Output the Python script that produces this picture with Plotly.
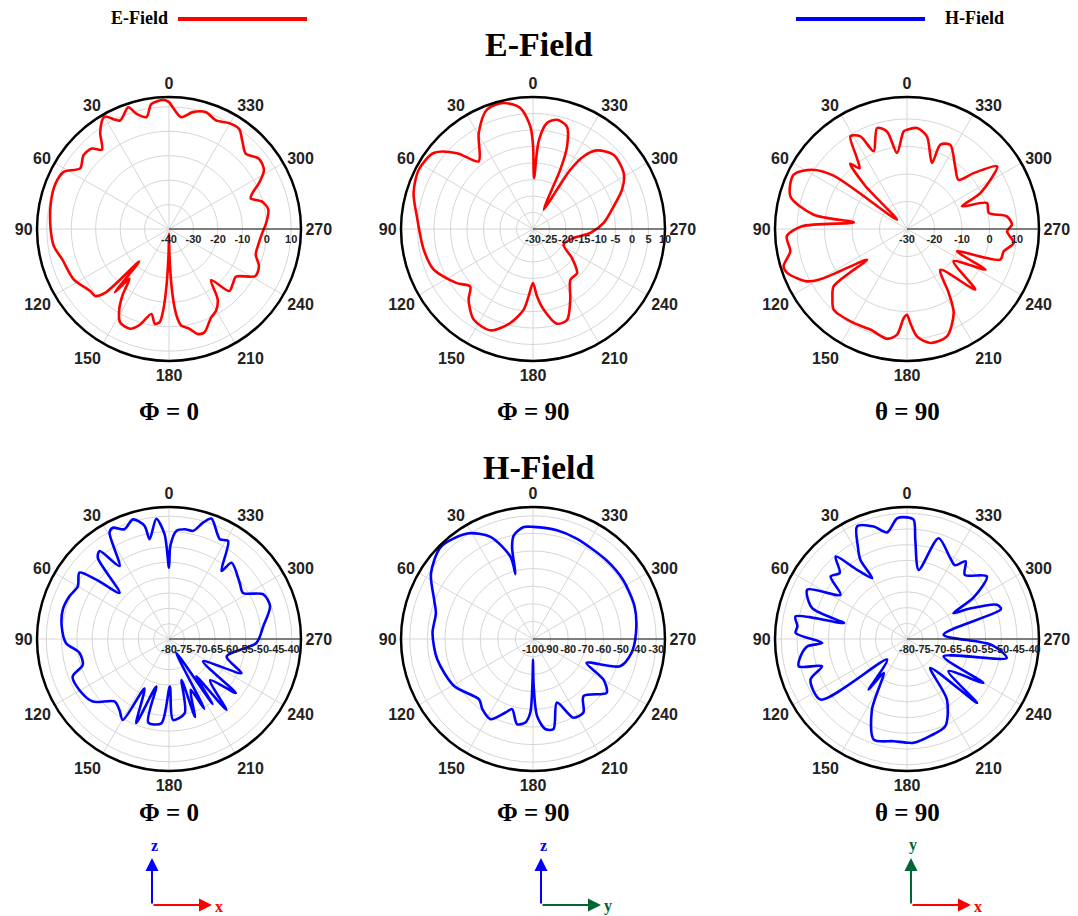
import plotly.graph_objects as go

W, H = 1078, 916

# ---------------- data (angle in degrees, gain in dB) ----------------
e_phi0_theta = [0, 2.6, 8.0, 11.4, 15.7, 18.5, 24.3, 30, 35.4, 40.2, 43.8, 49.2, 55.7, 61.5, 68.1, 77.7,
                90.3, 98.5, 105.9, 117.8, 128.2, 132.2, 135, 137.5, 139.5, 141.5, 144.9, 148.2, 152.3,
                158.7, 163, 168.3, 171.5, 174.3, 176, 177.5, 179, 180, 181, 182.5, 184, 185.5, 187.2,
                191.6, 195.3, 198.9, 205.4, 209.9, 214.7, 219.5, 224.2, 229, 234.5, 241.5, 247.6,
                253.6, 261.2, 267.6, 273.5, 281, 286.4, 290.6, 293.2, 297, 301.8, 308, 314.5, 319.8,
                325, 330.4, 336.6, 342.4, 348.5, 353.8, 358.1, 360]
e_phi0_db = [11.9, 12.8, 11.7, 6.7, 8.9, 12.5, 8.7, 13.0, 8.6, 2.5, 5.6, 6.2, 4.0, 9.0, 10.0, 9.5,
             8.4, 7.6, 5.4, 4.1, 1.0, 0.8, -3, -22, -6, -14, -7, -1.4, 3.1,
             3.8, 1.0, -4.5, -0.8, -1.7, -7, -17, -30, -38, -30, -17, -8, -3, -0.2,
             1.7, 4.5, 4.7, 0.1, -1.4, -5.0, -12.9, -4.6, -5.5, -6.4, 0.3, -0.2,
             -3.0, -2.8, -1.8, -0.2, 1.4, -0.3, -4.3, -2.9, 1.3, 5.7, 6.7, 4.0, 6.6,
             10.0, 9.8, 8.4, 10.1, 8.8, 6.0, 9.6, 11.9]

e_phi90_theta = [0, 1.5, 6.0, 13.1, 21.1, 29.5, 38.8, 45, 52.6, 62.6, 73.2, 83.8, 100.7, 112.3, 125.4,
                 132.5, 137.7, 146.8, 157.2, 166.4, 173.4, 176.3, 180, 183.4, 187.5, 194.2, 200.6,
                 207.8, 216.4, 225, 233.4, 242.9, 257.5, 266, 274.9, 285.7, 293.8, 301.7, 312.7,
                 320.9, 325.1, 327.8, 328.6, 331.1, 334.3, 335.3, 337.6, 341.7, 347.6, 352.5, 356.3,
                 358.8, 360]
e_phi90_db = [-4.5, 1.1, 6.9, 9.2, 8.8, 3.4, -3.7, 2.5, 7.9, 9.0, 7.8, 5.4, 3.7, 2.5, -1.7,
              -4.2, -1.0, 2.8, 3.3, -0.7, -5.4, -9.6, -13.6, -9.6, -5.4, -0.4, -0.6,
              -5.8, -10.9, -11.1, -15.3, -19.6, -17.4, -12.6, -8.5, -4.6, -0.5, 2.3, 3.2,
              0.7, -3.1, -8.8, -16.1, -23.3, -17.9, -10.2, -2.9, 2.7, 3.9, 2.4, -3.3,
              -14.5, -4.5]

e_th90_theta = [0, 2.0, 7.5, 11.6, 16.5, 23.2, 26.7, 31.4, 35, 38, 41, 44, 47, 54, 58, 64.4, 74.4,
                81.3, 82.9, 88.5, 93.5, 100.8, 106.8, 110.1, 117.6, 120.5, 127.5, 128, 132.9, 137.7,
                150.4, 160, 169.7, 174.6, 177.9, 180, 182, 185.3, 191.6, 200.4, 209.1, 213.1, 219.3,
                228.4, 235.3, 242.6, 246, 251.8, 257, 262.5, 268.7, 272.4, 277.2, 281.1, 288, 292.4,
                296.1, 304.8, 310, 313.7, 322.4, 332.8, 338.4, 339.3, 347.8, 354.3, 360]
e_th90_db = [6.1, 5.5, -2.1, 6.2, 8.3, 0.8, 7.7, 9.5, 2, -2, 1.5, -8, -25, 3, 10.7, 15.7, 14.0,
             4.3, -10.5, 8.2, 13.8, 13.2, 16.9, 16.4, 11.1, 5.2, -11.7, 3.8, 7.0, 9.6,
             9.3, 8.9, 10.6, 8.6, 2.4, 1.2, 4.2, 9.2, 12.3, 11.7, 4.9, -2.2, -10.8,
             3.2, -9.4, 2.1, -10.1, 5.7, 6.1, 9.1, 6.4, 8.2, 6.6, 0.3, 0.6, -8.4,
             -0.3, 9.9, 1.6, -4.1, -1.3, 4.4, 3.0, -4.3, 4.4, 6.9, 6.1]

h_phi0_theta = [0, 2.4, 6.0, 11.0, 12.2, 16.8, 22.1, 26.8, 29.2, 34.2, 38.3, 41.2, 47, 50.8, 53.5, 59.9,
                66.8, 74.5, 83.2, 92.2, 98.9, 106.6, 111.3, 119.6, 129.4, 138.9, 145.1, 150.3,
                153.6, 158.7, 165, 166, 174.8, 181, 182.8, 192, 197, 198.4, 203, 206.8, 207.6,
                213.8, 216.2, 219, 225, 231, 236.7, 244.8, 253.2, 267.4, 277.7, 288, 295.3,
                301.9, 308.4, 320.6, 322.3, 328.9, 333, 340.6, 343.7, 347.4, 351.8, 356.1, 359.2, 360]
h_phi0_db = [-56.8, -45.9, -40.6, -46.9, -42.3, -39.3, -41.4, -39.4, -40.3, -51.3, -43.5, -44.8, -58.0,
             -49.4, -43.7, -45.7, -44.7, -44.1, -44.8, -46.4, -50.5, -50.7, -46.3, -46.4, -47.9,
             -53.0, -51.8, -49.6, -62, -50.6, -64, -52, -52.4, -64.5, -53.6, -55.3, -66, -53.2,
             -62, -54.5, -75, -54.5, -64.9, -50.3, -61, -52, -66.7, -53.9, -60.4, -51.5,
             -49, -45.4, -46, -51.6, -50.6, -47.9, -52, -42.7, -43.5, -38.4, -40.5, -43.9, -43.9,
             -44.7, -49.7, -56.8]

h_phi90_theta = [0, 4.7, 10.5, 12.8, 15.1, 15.3, 22.6, 31.9, 45, 57.3, 68.4, 75.1, 86.6, 102.1, 120.8,
                 138.2, 144.2, 152.1, 159.5, 163.4, 169.4, 174.8, 177.9, 179.3, 180, 180.7, 183,
                 187.7, 192.8, 200.6, 207.2, 214.4, 221.5, 233.9, 240.1, 246, 252.6, 262, 273.3,
                 287.7, 303.2, 317, 336.5, 347.6, 360]
h_phi90_db = [-36.3, -36.2, -40.1, -46.3, -61.8, -51.6, -37.1, -29.4, -26, -31.1, -39.6, -42.9, -42.8,
              -44.4, -47.8, -54, -50.8, -48.4, -55.4, -58.4, -50.8, -52.4, -58.2, -75, -88.3, -75,
              -56.3, -48.4, -47.5, -61.4, -49.7, -49.3, -56.7, -48.2, -53.9, -66.7, -48.2, -43.5,
              -41.4, -39.4, -38.8, -38.8, -37.8, -36.7, -36.3]

h_th90_theta = [0, 4.7, 10.6, 16.5, 23.9, 28, 30.5, 29.8, 35.8, 40.9, 45.5, 50.7, 56.4, 63.7, 72, 75.8,
                78.5, 83.4, 86.9, 92.7, 94.2, 99.2, 104.2, 107.8, 112.8, 125, 135.9, 142.9, 145.5,
                153.6, 161.7, 172.6, 180, 183.7, 193.5, 203.7, 213.4, 218.8, 227.6, 232.2, 240.1,
                244.7, 259.2, 266, 276.7, 287.7, 290.9, 296, 299.1, 302, 308.1, 318, 323, 327,
                331.9, 342.6, 350.4, 355.2, 356.8, 360]
h_th90_db = [-41.3, -41.5, -45.5, -42.7, -40.8, -46.7, -50.8, -57.7, -52.9, -45.3, -50, -48.6, -54.6,
             -44.6, -48.3, -59.3, -43.8, -44.9, -44.5, -53, -48.2, -45.7, -44.5, -51.6, -46.7,
             -46.4, -70.9, -59.8, -66.9, -54.9, -46.3, -47.2, -47, -46.9, -48.3, -49.7, -56.9,
             -68.2, -49.8, -63.3, -52, -67.1, -47.7, -53, -68.3, -48.6, -49.4, -58, -63.1, -55,
             -47.7, -52.5, -49, -52, -50.8, -46.4, -57.7, -48.4, -42, -41.3]

# radial axis ranges and tick values (labels use plain hyphens as in the source figure)
ranges = [[-40, 14], [-30, 10], [-30, 18], [-80, -37], [-100, -25], [-80, -38]]
radial_ticks = [
    [-40, -30, -20, -10, 0, 10],
    [-30, -25, -20, -15, -10, -5, 0, 5, 10],
    [-30, -20, -10, 0, 10],
    [-80, -75, -70, -65, -60, -55, -50, -45, -40],
    [-100, -90, -80, -70, -60, -50, -40, -30],
    [-80, -75, -70, -65, -60, -55, -50, -45, -40],
]
angle_ticks = list(range(0, 360, 30))
angle_labels = [str(a) for a in angle_ticks]
sub_labels = ["Φ = 0", "Φ = 90", "θ = 90", "Φ = 0", "Φ = 90", "θ = 90"]

series = [
    (e_phi0_theta, e_phi0_db, "#ff0000"),
    (e_phi90_theta, e_phi90_db, "#ff0000"),
    (e_th90_theta, e_th90_db, "#ff0000"),
    (h_phi0_theta, h_phi0_db, "#0000ff"),
    (h_phi90_theta, h_phi90_db, "#0000ff"),
    (h_th90_theta, h_th90_db, "#0000ff"),
]

# ---------------- layout geometry (pixels) ----------------
col_cx = [169, 533, 907]
row_cy = [229, 639]
R = 132


def px(x):
    return x / W


def py(y):
    return 1 - y / H


SANS = "Liberation Sans, Arial, sans-serif"
SERIF = "Liberation Serif, Times New Roman, serif"

fig = go.Figure()
layout = dict(
    width=W, height=H, autosize=False,
    margin=dict(l=0, r=0, t=0, b=0),
    paper_bgcolor="white", plot_bgcolor="white",
    showlegend=False,
)

for i, (th, r, col) in enumerate(series):
    name = "polar" if i == 0 else f"polar{i + 1}"
    cx = col_cx[i % 3]
    cy = row_cy[i // 3]
    layout[name] = dict(
        domain=dict(x=[px(cx - R), px(cx + R)], y=[py(cy + R), py(cy - R)]),
        bgcolor="white",
        angularaxis=dict(
            rotation=90, direction="counterclockwise",
            tickmode="array", tickvals=angle_ticks, ticktext=angle_labels, ticks="",
            showline=True, linecolor="black", linewidth=2.5,
            gridcolor="#d6d6d6", gridwidth=1,
            tickfont=dict(family=SANS, size=16, color="#222", weight="bold"),
        ),
        radialaxis=dict(
            range=ranges[i], angle=0, tickangle=0,
            tickmode="array", tickvals=radial_ticks[i],
            ticktext=[str(v) for v in radial_ticks[i]],
            showline=True, linecolor="#111", linewidth=1,
            ticks="", gridcolor="#d6d6d6", gridwidth=1,
            tickfont=dict(family=SANS, size=11, color="#222", weight="bold"),
        ),
    )
    fig.add_trace(go.Scatterpolar(
        theta=th, r=r, mode="lines", subplot=name,
        line=dict(color=col, width=2.6, shape="spline", smoothing=0.8),
        hoverinfo="skip",
    ))


def label(text, x, y, size, color="black", family=SERIF):
    return dict(text=text, x=px(x), y=py(y), xref="paper", yref="paper",
                xanchor="center", yanchor="middle", showarrow=False,
                font=dict(family=family, size=size, color=color))


annotations = []
annotations.append(label("<b>E-Field</b>", 539, 45, 34))
annotations.append(label("<b>H-Field</b>", 539, 467, 34))
for i, lab in enumerate(sub_labels):
    cx = col_cx[i % 3]
    yy = 411 if i < 3 else 812
    annotations.append(label(f"<b>{lab}</b>", cx, yy, 25))

annotations.append(label("<b>E-Field</b>", 139, 18, 18))
annotations.append(label("<b>H-Field</b>", 974, 18, 18))
shapes = [
    dict(type="line", xref="paper", yref="paper", x0=px(178), x1=px(307), y0=py(19), y1=py(19),
         line=dict(color="#ff0000", width=4)),
    dict(type="line", xref="paper", yref="paper", x0=px(796), x1=px(925), y0=py(19), y1=py(19),
         line=dict(color="#0000ff", width=4)),
]

BLUE, RED, GREEN = "#0000ff", "#ff0000", "#006633"
icons = [
    (152, 905, "z", BLUE, "x", RED),
    (541, 905, "z", BLUE, "y", GREEN),
    (911, 905, "y", GREEN, "x", RED),
]
for ox, oy, vlab, vcol, hlab, hcol in icons:
    annotations.append(dict(x=px(ox), y=py(oy - 47), xref="paper", yref="paper", text="",
                            showarrow=True, ax=0, ay=47, arrowhead=2, arrowsize=1.3,
                            arrowwidth=2, arrowcolor=vcol))
    annotations.append(dict(x=px(ox + 60), y=py(oy), xref="paper", yref="paper", text="",
                            showarrow=True, ax=-60, ay=0, arrowhead=2, arrowsize=1.3,
                            arrowwidth=2, arrowcolor=hcol))
    annotations.append(label(f"<b>{vlab}</b>", ox + 2, oy - 60, 16, vcol))
    annotations.append(label(f"<b>{hlab}</b>", ox + 67, oy + 1, 16, hcol))

layout["annotations"] = annotations
layout["shapes"] = shapes
fig.update_layout(**layout)

fig.write_html("out.html", config={"displayModeBar": False},
               post_script="document.body.style.margin='0';")
